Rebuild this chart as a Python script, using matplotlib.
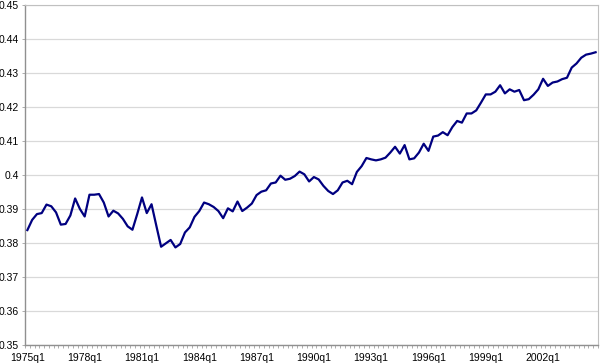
import matplotlib
matplotlib.use("Agg")
import matplotlib.pyplot as plt
import numpy as np

plt.rcParams['font.family'] = ['Liberation Sans', 'DejaVu Sans']

start_year = 1975
n_quarters = 120
values = [
    0.3838, 0.3868, 0.3885, 0.3888, 0.3913, 0.3908, 0.3890, 0.3854, 0.3856, 0.3881,
    0.3931, 0.3900, 0.3878, 0.3942, 0.3942, 0.3944, 0.3919, 0.3878, 0.3895, 0.3887,
    0.3871, 0.3849, 0.3839, 0.3885, 0.3934, 0.3888, 0.3914, 0.3851, 0.3789, 0.3799,
    0.3809, 0.3787, 0.3797, 0.3831, 0.3846, 0.3877, 0.3894, 0.3919, 0.3914, 0.3906,
    0.3894, 0.3873, 0.3902, 0.3893, 0.3922, 0.3894, 0.3904, 0.3916, 0.3941, 0.3951,
    0.3955, 0.3975, 0.3978, 0.3998, 0.3986, 0.3989, 0.3997, 0.4010, 0.4002, 0.3981,
    0.3994, 0.3987, 0.3968, 0.3953, 0.3944, 0.3955, 0.3978, 0.3983, 0.3973, 0.4009,
    0.4026, 0.4050, 0.4046, 0.4043, 0.4046, 0.4051, 0.4066, 0.4083, 0.4063, 0.4088,
    0.4046, 0.4049, 0.4066, 0.4092, 0.4071, 0.4113, 0.4116, 0.4126, 0.4117, 0.4141,
    0.4159, 0.4154, 0.4181, 0.4181, 0.4190, 0.4213, 0.4237, 0.4237, 0.4245, 0.4264,
    0.4240, 0.4252, 0.4245, 0.4250, 0.4220, 0.4223, 0.4236, 0.4252, 0.4283, 0.4262,
    0.4272, 0.4275, 0.4282, 0.4286, 0.4316, 0.4328, 0.4345, 0.4354, 0.4357, 0.4361,
]
labels = [f"{start_year + i // 4}q{i % 4 + 1}" for i in range(n_quarters)]
y_ticks = [0.35, 0.36, 0.37, 0.38, 0.39, 0.40, 0.41, 0.42, 0.43, 0.44, 0.45]
y_tick_labels = ["0.35", "0.36", "0.37", "0.38", "0.39", "0.4", "0.41", "0.42", "0.43", "0.44", "0.45"]

fig = plt.figure(figsize=(6.0, 3.63), dpi=100)
ax = fig.add_axes([25/600, 18/363, 573/600, 340/363])

x = np.arange(len(values))
ax.plot(x, values, color='#000080', lw=1.6, solid_joinstyle='round', zorder=3)

ax.set_xlim(-0.5, len(values) - 0.5)
ax.set_ylim(0.35, 0.45)
ax.set_yticks(y_ticks)
ax.set_yticklabels(y_tick_labels)
ax.yaxis.grid(True, color='#d9d9d9', lw=0.9)
ax.set_axisbelow(True)

major = list(range(0, len(values), 12))
ax.set_xticks(major)
ax.set_xticklabels([labels[i] for i in major])
ax.set_xticks(np.arange(-0.5, len(values), 1), minor=True)
ax.tick_params(axis='x', which='major', length=0, pad=6, labelsize=7.5, colors='#000000')
ax.tick_params(axis='x', which='minor', length=2.5, width=0.6, color='#a0a0a0')
ax.tick_params(axis='y', length=2.5, width=0.6, color='#a0a0a0', pad=2, labelsize=7.5)

for side in ['left', 'bottom']:
    ax.spines[side].set_color('#909090')
    ax.spines[side].set_linewidth(1.0)
for side in ['top', 'right']:
    ax.spines[side].set_color('#c0c0c0')
    ax.spines[side].set_linewidth(0.8)

fig.savefig('out.png', dpi=100)
